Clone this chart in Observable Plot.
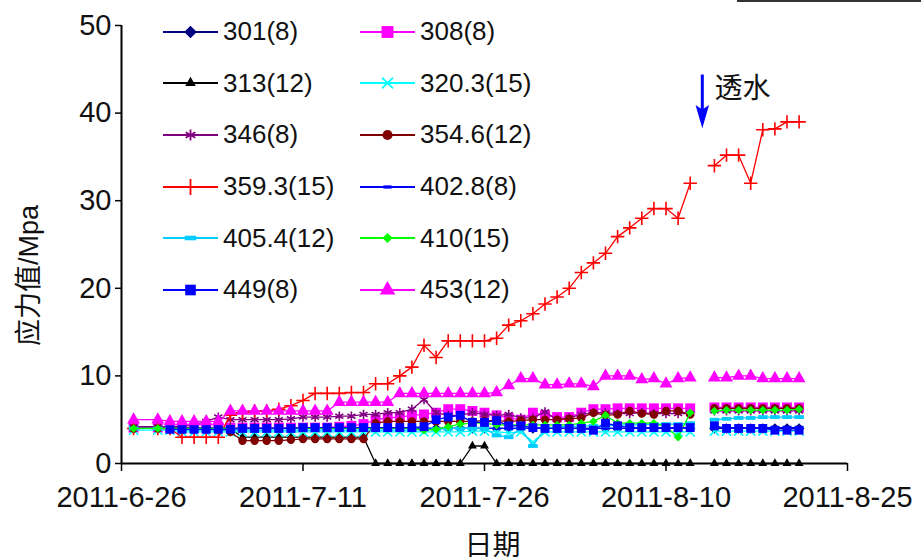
<!DOCTYPE html>
<html><head><meta charset="utf-8">
<script src="https://cdn.jsdelivr.net/npm/d3@7"></script>
<script src="https://cdn.jsdelivr.net/npm/@observablehq/plot@0.6"></script>
<style>
body{margin:0;background:#fff;}
#wrap{position:relative;width:921px;height:560px;font-family:"Liberation Sans","Noto Sans CJK SC",sans-serif;color:#111;}
#legend{position:absolute;left:163px;top:6px;display:grid;grid-template-columns:197px 200px;grid-auto-rows:51.6px;}
.item{display:flex;align-items:center;font-size:26px;}
.item svg{margin-right:5px;}
#topline{position:absolute;left:737px;top:0;width:184px;height:0;border-top:2px solid #333;}
</style></head><body><div id="wrap"><div id="topline"></div></div>
<script>
// ---------- data ----------
const dates = [
 "2011-06-27","2011-06-29","2011-06-30",
 "2011-07-01","2011-07-02","2011-07-03","2011-07-04","2011-07-05","2011-07-06","2011-07-07","2011-07-08","2011-07-09","2011-07-10",
 "2011-07-11","2011-07-12","2011-07-13","2011-07-14","2011-07-15","2011-07-16","2011-07-17","2011-07-18","2011-07-19","2011-07-20",
 "2011-07-21","2011-07-22","2011-07-23","2011-07-24","2011-07-25","2011-07-26","2011-07-27","2011-07-28","2011-07-29","2011-07-30","2011-07-31",
 "2011-08-01","2011-08-02","2011-08-03","2011-08-04","2011-08-05","2011-08-06","2011-08-07","2011-08-08","2011-08-09","2011-08-10",
 "2011-08-11","2011-08-12","2011-08-13","2011-08-14","2011-08-15","2011-08-16","2011-08-17","2011-08-18","2011-08-19","2011-08-20","2011-08-21"
];
const names = ["301(8)","308(8)","313(12)","320.3(15)","346(8)","354.6(12)","359.3(15)","402.8(8)","405.4(12)","410(15)","449(8)","453(12)"];

const s301 = [4,4,4, 4,4,4,4,4,4,4,4,4,4, 4,4,4,4,4,4,4,4,4,4, 4,4,4,4,4,4,4,4,4,4,4, 4,4,4,4,4,4,4,4,4,4, 4,4,null,4,4,4,4,4,4,4,4];
const s308 = [4.1,4.1,4.1, 4.1,4.1,4.1,4.1,4.1,4.1,4.1,4.1,4.1,4.1, 4.1,4.1,4.1,4.2,4.3,4.5,5,5.2,5.3,5.5, 5.6,5.8,6.2,6.2,6,5.8,5.5,5.2,5,5.8,5.5, 5.3,5.3,5.8,6.2,6.2,6.3,6.3,6.3,6.3,6.3, 6.3,6.3,null,6.4,6.4,6.4,6.4,6.4,6.4,6.4,6.4];
const s313 = [4,4,4, 4,4,4,4,4,3,3,3,3,3, 3,3,3,3,3,3,0,0,0,0, 0,0,0,0,2,2,0,0,0,0,0, 0,0,0,0,0,0,0,0,0,0, 0,0,null,0,0,0,0,0,0,0,0];
const s320 = [3.8,3.8,3.8, 3.6,3.6,3.6,3.6,3.6,3.6,3.6,3.6,3.6,3.6, 3.6,3.6,3.6,3.6,3.6,3.6,3.6,3.6,3.6,3.6, 3.6,3.6,3.6,3.6,3.7,3.7,3.6,3.5,3.6,2.4,3.6, 3.6,3.6,3.6,3.6,3.6,3.6,3.6,3.6,3.6,3.6, 3.6,3.6,null,3.7,3.7,3.7,3.7,3.7,3.7,3.7,3.7];
const s346 = [4.2,4.2,4.2, 4.2,4.4,4.8,5.3,5,5,5,5,5,5.1, 5.3,5.3,5.3,5.4,5.4,5.6,5.6,5.8,5.8,6.2, 7.3,5.8,5.5,5.5,5.8,5.6,5.5,5.6,5.2,5.2,5.9, 5,5.2,5.6,5.8,5.8,5.7,5.7,5.8,5.7,5.7, 5.7,5.7,null,6,6,6,6,6,6,6,6];
const s354 = [4,4,4, 4,4,4,4,3.6,2.6,2.6,2.6,2.6,2.7, 2.8,2.8,2.8,2.8,2.8,2.8,4.6,4.8,4.8,4.8, 4.8,4.8,4.8,4.8,4.8,4.9,4.9,4.8,4.9,5,5, 5,5.1,5.2,5.8,5.5,5.6,6,5.7,5.6,6, 6,5.6,null,6.3,6.3,6.3,6.3,6.3,6.3,6.3,6.3];
const s359 = [4,4,4, 3,3,3,3,5.5,5.8,6,6,6.2,6.6, 7.2,8,8,8,8.1,8.1,9.1,9.1,10,11, 13.5,12.1,14,14,14,14,14.3,15.8,16.3,17.1,18.2, 19,20,21.8,22.9,24,25.9,26.9,28,29.1,29.1, 28,32,null,34,35.2,35.2,32,38.1,38.2,39,39];
const s402 = [4,4,4, 4,4,4,4,4,4,4,4,4,4, 4,4,4,4,4,4,4,4,4,4, 4,4,4,4,4,4,4,4,4,4,4, 4,4,4,4,4,4,4,4,4,4, 4,4,null,4.1,4.1,4.1,4.1,4.1,4.1,4.1,4.1];
const s405 = [4,4,4, 3.8,3.8,3.8,3.8,3.8,3.8,3.8,3.8,3.8,3.8, 3.8,3.8,3.8,3.8,3.8,3.8,3.8,3.8,3.8,3.8, 3.9,3.9,4,4,4,4,3.2,3,4,2,4, 4.2,4.2,4.3,4.3,4.3,4.4,4.4,4.4,4.5,4.5, 4.5,4.6,null,5,5.1,5.2,5.2,5.3,5.3,5.3,5.3];
const s410 = [4,4,4, 4,4,4,4,4,4,4,4,4,4, 4,4,4,4,4,4,4,4,4,4, 3.8,3.9,4.2,4.5,4.6,4.6,4.4,4.4,4.4,4.4,4.4, 4.4,4.4,4.6,4.8,5.5,4.6,4.6,4.6,4.6,4.2, 3,5.8,null,6,6.1,6.1,6.1,6.1,6.1,6.1,6.2];
const s449 = [null,null,3.9, 3.9,3.9,3.9,3.9,3.9,4,4,4,4,4, 4.1,4.1,4.1,4.1,4.1,4.1,4.1,4.1,4.1,4.1, 4.2,5,5.3,5.5,4.7,4.7,4.9,4.3,4.3,4.1,4, 4,4,4,3.8,4.6,4.3,4.1,4.1,4.1,4.1, 4.1,4.1,null,4.3,4,4,4,4,3.8,3.8,3.8];
const s453 = [5,5,4.8, 4.8,4.8,4.8,4.8,6,6,6,6,6,6, 6,6,6,7,7,7,7,7,8,8, 8,8,8,8,8,8,8.1,8.9,9.7,9.7,9, 9,9.1,9.1,8.8,10,10,10,9.6,9.7,9.1, 9.7,9.8,null,9.8,9.8,10,10,9.7,9.7,9.7,9.7];

const xTicks = ["2011-06-26","2011-07-11","2011-07-26","2011-08-10","2011-08-25"];
const yTicks = [0,10,20,30,40,50];
const noteText = "透水";
const noteDate = "2011-08-13";
const noteTextDate = "2011-08-14";
const noteArrowTop = 44.4, noteArrowHead = 39.6, noteTextY = 42.8;

// ---------- styles ----------
const rhombus = {draw(ctx, size){const r = Math.sqrt(size/Math.PI)*1.25; ctx.moveTo(0,-r); ctx.lineTo(r,0); ctx.lineTo(0,r); ctx.lineTo(-r,0); ctx.closePath();}};
const dash = {draw(ctx, size){const r = Math.sqrt(size/Math.PI); ctx.rect(-r,-r*0.4,2*r,r*0.8);}};
const headDown = {draw(ctx, size){const r = Math.sqrt(size/Math.PI); ctx.moveTo(0,r*1.3); ctx.lineTo(-r*0.75,-r*1.3); ctx.lineTo(0,-r*0.8); ctx.lineTo(r*0.75,-r*1.3); ctx.closePath();}};
const styles = [
 {color:"#000080", sym:rhombus, r:4.2, filled:true},
 {color:"#FF00FF", sym:d3.symbolSquare, r:5.6, filled:true},
 {color:"#000000", sym:d3.symbolTriangle, r:3.3, filled:true},
 {color:"#00FFFF", sym:(d3.symbolTimes||d3.symbolX), r:4.2, filled:false},
 {color:"#800080", sym:d3.symbolAsterisk, r:4.4, filled:false},
 {color:"#800000", sym:d3.symbolCircle, r:4.2, filled:true},
 {color:"#FF0000", sym:d3.symbolPlus, r:4.4, filled:false},
 {color:"#0000FF", sym:dash, r:3.4, filled:true},
 {color:"#00CCFF", sym:dash, r:4.8, filled:true},
 {color:"#00FF00", sym:rhombus, r:3.4, filled:true},
 {color:"#0000FF", sym:d3.symbolSquare, r:5, filled:true},
 {color:"#FF00FF", sym:d3.symbolTriangle, r:4.8, filled:true}
];
const series = [s301,s308,s313,s320,s346,s354,s359,s402,s405,s410,s449,s453];

const parsed = dates.map(d => new Date(d));
const xDomain = [new Date(xTicks[0]), new Date(xTicks[xTicks.length-1])];

const marks = [
  Plot.ruleX([xDomain[0]], {stroke:"#000", strokeWidth:2}),
  Plot.ruleY([0], {stroke:"#000", strokeWidth:2})
];
series.forEach((vals, k) => {
  const st = styles[k];
  const data = parsed.map((date, i) => ({date, value: vals[i]}));
  marks.push(Plot.line(data, {x:"date", y:"value", stroke:st.color, strokeWidth:1.3}));
  marks.push(Plot.dot(data.filter(d => d.value != null), {
    x:"date", y:"value", symbol:st.sym, r:st.r,
    fill: st.filled ? st.color : "none",
    stroke: st.filled ? "none" : st.color, strokeWidth:1.6
  }));
});
const note = [{date:new Date(noteDate), textDate:new Date(noteTextDate), top:noteArrowTop, head:noteArrowHead, ty:noteTextY, text:noteText}];
marks.push(
  Plot.link(note, {x1:"date", x2:"date", y1:"top", y2:d => d.head + 0.8, stroke:"#0000FF", strokeWidth:3}),
  Plot.dot(note, {x:"date", y:"head", symbol:headDown, r:9, fill:"#0000FF", stroke:"none"}),
  Plot.text(note, {x:"textDate", y:"ty", text:"text", textAnchor:"start", dx:0, fontSize:28, fill:"#111"}),
  Plot.axisX({ticks:xTicks.map(d => new Date(d)), tickFormat:d3.utcFormat("%Y-%-m-%-d"), tickSize:8, tickPadding:15, fontSize:29, label:null, stroke:"#000", strokeWidth:1.5}),
  Plot.axisY({ticks:yTicks, tickSize:6, tickPadding:4, fontSize:29, label:null, stroke:"#000", strokeWidth:1.5}),
  Plot.text(["应力值/Mpa"], {frameAnchor:"left", textAnchor:"middle", lineAnchor:"middle", rotate:-90, dx:-92, dy:31, fontSize:27, fill:"#111"}),
  Plot.text(["日期"], {frameAnchor:"bottom", textAnchor:"middle", lineAnchor:"middle", dy:83, dx:8, fontSize:28, fill:"#111"})
);

const chart = Plot.plot({
  width:921, height:560,
  marginLeft:121, marginRight:74, marginTop:25, marginBottom:97,
  x:{type:"utc", domain:xDomain},
  y:{domain:[0,50]},
  style:{fontFamily:"'Liberation Sans','Noto Sans CJK SC',sans-serif", fontSize:"28px", color:"#111", background:"white", overflow:"visible"},
  marks
});
const wrap = document.getElementById("wrap");
wrap.insertBefore(chart, wrap.firstChild);

// ---------- legend (inside plot area, 2 columns) ----------
const legend = d3.select(wrap).append("div").attr("id","legend");
names.forEach((n, k) => {
  const st = styles[k];
  const it = legend.append("div").attr("class","item");
  const sv = it.append("svg").attr("width",55).attr("height",24);
  sv.append("line").attr("x1",0).attr("x2",55).attr("y1",12).attr("y2",12).attr("stroke",st.color).attr("stroke-width",2);
  const rr = st.r*1.2;
  sv.append("path").attr("transform","translate(27.5,12)")
    .attr("d", d3.symbol(st.sym, rr*rr*Math.PI)())
    .attr("fill", st.filled ? st.color : "none")
    .attr("stroke", st.filled ? "none" : st.color).attr("stroke-width",1.8);
  it.append("span").text(n);
});
</script></body></html>
